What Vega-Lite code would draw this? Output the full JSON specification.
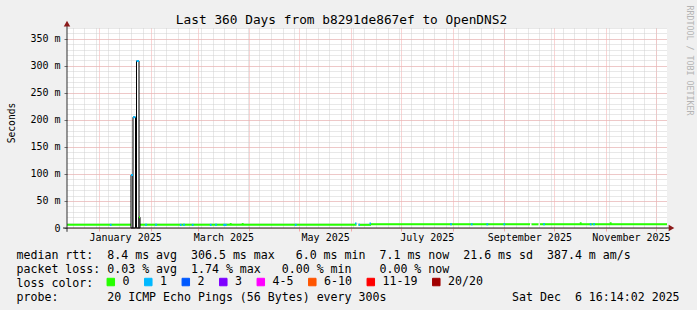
{
  "$schema": "https://vega.github.io/schema/vega-lite/v6.json",
  "width": 600,
  "height": 200,
  "autosize": {"type": "none"},
  "padding": {"left": 67, "top": 28, "right": 30, "bottom": 82},
  "background": "#f0f0f0",
  "config": {
    "view": {"fill": "white", "stroke": null},
    "font": "DejaVu Sans Mono",
    "axis": {"labelFont": "DejaVu Sans Mono", "titleFont": "DejaVu Sans Mono", "titleFontWeight": "normal", "labelColor": "#000000", "titleColor": "#000000"}
  },
  "data": {"values": [
    {"start": "2024-12-12T15:00", "end": "2025-06-04T07:48", "ms": 5.8, "loss": "0", "kind": "line"},
    {"start": "2025-06-05T12:36", "end": "2025-06-13T00:36", "ms": 5.8, "loss": "0", "kind": "line"},
    {"start": "2025-06-13T00:36", "end": "2025-09-16T10:12", "ms": 6.8, "loss": "0", "kind": "line"},
    {"start": "2025-09-17T07:48", "end": "2025-09-21T12:36", "ms": 6.8, "loss": "0", "kind": "line"},
    {"start": "2025-09-22T10:12", "end": "2025-12-07T15:00", "ms": 6.8, "loss": "0", "kind": "line"},
    {"start": "2025-01-07T07:20", "end": "2025-01-08T09:15", "ms": 5.8, "loss": "1", "kind": "line"},
    {"start": "2025-01-28T11:38", "end": "2025-01-29T13:34", "ms": 5.8, "loss": "1", "kind": "line"},
    {"start": "2025-02-03T11:38", "end": "2025-02-04T13:34", "ms": 5.8, "loss": "1", "kind": "line"},
    {"start": "2025-02-18T07:19", "end": "2025-02-19T09:14", "ms": 5.8, "loss": "1", "kind": "line"},
    {"start": "2025-02-20T06:50", "end": "2025-02-21T08:46", "ms": 5.8, "loss": "1", "kind": "line"},
    {"start": "2025-02-25T12:07", "end": "2025-02-26T14:02", "ms": 5.8, "loss": "1", "kind": "line"},
    {"start": "2025-03-08T07:19", "end": "2025-03-09T09:14", "ms": 5.8, "loss": "1", "kind": "line"},
    {"start": "2025-03-11T11:38", "end": "2025-03-12T13:34", "ms": 5.8, "loss": "1", "kind": "line"},
    {"start": "2025-03-16T09:43", "end": "2025-03-18T10:41", "ms": 5.8, "loss": "1", "kind": "line"},
    {"start": "2025-03-20T07:19", "end": "2025-03-21T09:14", "ms": 7.3, "loss": "0", "kind": "line"},
    {"start": "2025-03-27T12:07", "end": "2025-03-28T14:02", "ms": 7.3, "loss": "0", "kind": "line"},
    {"start": "2025-04-28T07:19", "end": "2025-04-29T09:14", "ms": 5.8, "loss": "1", "kind": "line"},
    {"start": "2025-06-03T10:12", "end": "2025-06-04T07:48", "ms": 8.5, "loss": "1", "kind": "line"},
    {"start": "2025-06-05T12:36", "end": "2025-06-06T10:12", "ms": 5.8, "loss": "1", "kind": "line"},
    {"start": "2025-06-12T03:00", "end": "2025-06-13T00:36", "ms": 8.5, "loss": "1", "kind": "line"},
    {"start": "2025-07-30T11:38", "end": "2025-07-31T13:34", "ms": 6.8, "loss": "1", "kind": "line"},
    {"start": "2025-08-11T21:43", "end": "2025-08-12T23:38", "ms": 6.8, "loss": "1", "kind": "line"},
    {"start": "2025-08-21T06:22", "end": "2025-08-22T08:17", "ms": 6.8, "loss": "1", "kind": "line"},
    {"start": "2025-08-31T11:10", "end": "2025-09-01T13:05", "ms": 6.8, "loss": "1", "kind": "line"},
    {"start": "2025-09-24T06:50", "end": "2025-09-25T08:46", "ms": 6.8, "loss": "1", "kind": "line"},
    {"start": "2025-10-16T07:19", "end": "2025-10-17T09:14", "ms": 8.8, "loss": "0", "kind": "line"},
    {"start": "2025-10-22T07:19", "end": "2025-10-23T09:14", "ms": 6.8, "loss": "1", "kind": "line"},
    {"start": "2025-10-24T06:50", "end": "2025-10-25T08:46", "ms": 6.8, "loss": "1", "kind": "line"},
    {"start": "2025-11-03T07:19", "end": "2025-11-04T09:14", "ms": 8.8, "loss": "0", "kind": "line"},
    {"start": "2025-01-20T00:36", "end": "2025-01-21T05:24", "ms": 98, "loss": "1", "kind": "spike"},
    {"start": "2025-01-21T05:24", "end": "2025-01-22T17:24", "ms": 205, "loss": "1", "kind": "spike"},
    {"start": "2025-01-23T07:48", "end": "2025-01-24T19:48", "ms": 309, "loss": "1", "kind": "spike"},
    {"start": "2025-01-24T19:48", "end": "2025-01-25T10:12", "ms": 20, "loss": "0", "kind": "spike"}
  ]},
  "resolve": {"axis": {"x": "independent", "y": "independent"}},
  "layer": [
    {
      "transform": [{"filter": "datum.kind == 'line'"}],
      "mark": {"type": "rule", "strokeWidth": 2, "strokeCap": "butt"},
      "encoding": {
        "x": {"field": "start", "type": "temporal",
          "scale": {"domain": [{"year": 2024, "month": 12, "date": 12, "hours": 15}, {"year": 2025, "month": 12, "date": 7, "hours": 15}]},
          "axis": {"orient": "bottom", "grid": true, "gridColor": "#d0d0d0", "gridDash": [1, 1], "labels": false, "ticks": false, "domain": false, "title": null,
            "values": [
              {"year": 2024, "month": 12, "date": 16}, {"year": 2024, "month": 12, "date": 23}, {"year": 2024, "month": 12, "date": 30},
              {"year": 2025, "month": 1, "date": 6}, {"year": 2025, "month": 1, "date": 13}, {"year": 2025, "month": 1, "date": 20}, {"year": 2025, "month": 1, "date": 27},
              {"year": 2025, "month": 2, "date": 3}, {"year": 2025, "month": 2, "date": 10}, {"year": 2025, "month": 2, "date": 17}, {"year": 2025, "month": 2, "date": 24},
              {"year": 2025, "month": 3, "date": 3}, {"year": 2025, "month": 3, "date": 10}, {"year": 2025, "month": 3, "date": 17}, {"year": 2025, "month": 3, "date": 24}, {"year": 2025, "month": 3, "date": 31},
              {"year": 2025, "month": 4, "date": 7}, {"year": 2025, "month": 4, "date": 14}, {"year": 2025, "month": 4, "date": 21}, {"year": 2025, "month": 4, "date": 28},
              {"year": 2025, "month": 5, "date": 5}, {"year": 2025, "month": 5, "date": 12}, {"year": 2025, "month": 5, "date": 19}, {"year": 2025, "month": 5, "date": 26},
              {"year": 2025, "month": 6, "date": 2}, {"year": 2025, "month": 6, "date": 9}, {"year": 2025, "month": 6, "date": 16}, {"year": 2025, "month": 6, "date": 23}, {"year": 2025, "month": 6, "date": 30},
              {"year": 2025, "month": 7, "date": 7}, {"year": 2025, "month": 7, "date": 14}, {"year": 2025, "month": 7, "date": 21}, {"year": 2025, "month": 7, "date": 28},
              {"year": 2025, "month": 8, "date": 4}, {"year": 2025, "month": 8, "date": 11}, {"year": 2025, "month": 8, "date": 18}, {"year": 2025, "month": 8, "date": 25},
              {"year": 2025, "month": 9, "date": 1}, {"year": 2025, "month": 9, "date": 8}, {"year": 2025, "month": 9, "date": 15}, {"year": 2025, "month": 9, "date": 22}, {"year": 2025, "month": 9, "date": 29},
              {"year": 2025, "month": 10, "date": 6}, {"year": 2025, "month": 10, "date": 13}, {"year": 2025, "month": 10, "date": 20}, {"year": 2025, "month": 10, "date": 27},
              {"year": 2025, "month": 11, "date": 3}, {"year": 2025, "month": 11, "date": 10}, {"year": 2025, "month": 11, "date": 17}, {"year": 2025, "month": 11, "date": 24},
              {"year": 2025, "month": 12, "date": 1}
            ]}},
        "x2": {"field": "end"},
        "y": {"field": "ms", "type": "quantitative",
          "scale": {"domain": [0, 370], "nice": false, "zero": false},
          "axis": {"orient": "left", "grid": true, "gridColor": "#d0d0d0", "gridDash": [1, 1], "labels": false, "ticks": false, "domain": false, "title": null,
            "values": [0, 10, 20, 30, 40, 50, 60, 70, 80, 90, 100, 110, 120, 130, 140, 150, 160, 170, 180, 190, 200, 210, 220, 230, 240, 250, 260, 270, 280, 290, 300, 310, 320, 330, 340, 350, 360, 370]}},
        "color": {"field": "loss", "type": "nominal",
          "scale": {"domain": ["0", "1", "2", "3", "4-5", "6-10", "11-19", "20/20"],
                    "range": ["#26ff00", "#00b8ff", "#0059ff", "#7e00ff", "#ff00ff", "#ff5500", "#ff0000", "#a10000"]},
          "legend": {"orient": "none", "legendX": 38, "legendY": 248, "direction": "horizontal", "columns": 8, "title": null,
            "labelFont": "DejaVu Sans Mono", "labelFontSize": 11.6, "labelColor": "#000000", "labelOffset": 6, "columnPadding": 12.5, "padding": 0,
            "symbolType": "square", "symbolSize": 56, "symbolStrokeWidth": 1, "symbolStrokeColor": "#000000",
            "encode": {"symbols": {"update": {"fill": {"scale": "color", "field": "value"}, "stroke": {"value": "#000000"}, "strokeWidth": {"value": 1}, "opacity": {"value": 1}}}}}}
      }
    },
    {
      "transform": [{"filter": "datum.kind == 'spike'"}],
      "mark": {"type": "rect", "fill": "white", "stroke": "#000000", "strokeWidth": 1},
      "encoding": {
        "x": {"field": "start", "type": "temporal",
          "scale": {"domain": [{"year": 2024, "month": 12, "date": 12, "hours": 15}, {"year": 2025, "month": 12, "date": 7, "hours": 15}]},
          "axis": {"orient": "bottom", "grid": true, "gridColor": "#f4a8a8", "gridDash": [1, 1], "labels": false, "ticks": true, "tickColor": "#f4a8a8", "tickSize": 3, "domain": false, "title": null,
            "values": [
              {"year": 2025, "month": 1, "date": 1}, {"year": 2025, "month": 2, "date": 1}, {"year": 2025, "month": 3, "date": 1}, {"year": 2025, "month": 4, "date": 1},
              {"year": 2025, "month": 5, "date": 1}, {"year": 2025, "month": 6, "date": 1}, {"year": 2025, "month": 7, "date": 1}, {"year": 2025, "month": 8, "date": 1},
              {"year": 2025, "month": 9, "date": 1}, {"year": 2025, "month": 10, "date": 1}, {"year": 2025, "month": 11, "date": 1}, {"year": 2025, "month": 12, "date": 1}
            ]}},
        "x2": {"field": "end"},
        "y": {"field": "ms", "type": "quantitative",
          "scale": {"domain": [0, 370], "nice": false, "zero": false},
          "axis": {"orient": "left", "grid": true, "gridColor": "#f4a8a8", "gridDash": [1, 1], "ticks": true, "tickColor": "#707070", "tickSize": 3, "domain": false,
            "values": [0, 50, 100, 150, 200, 250, 300, 350],
            "labelExpr": "datum.value == 0 ? '0\u00a0\u00a0' : datum.value + '\u00a0m'",
            "labelFont": "DejaVu Sans Mono", "labelFontSize": 10, "labelPadding": 4, "labelBaseline": "middle",
            "title": "Seconds", "titleFont": "DejaVu Sans Mono", "titleFontSize": 9.6, "titleFontWeight": "normal",
            "titleX": -56, "titleY": 94.5, "titleAngle": 270, "titleAlign": "center", "titleBaseline": "middle"}},
        "y2": {"datum": 0}
      }
    },
    {
      "transform": [{"filter": "datum.kind == 'spike'"}],
      "mark": {"type": "rule", "strokeWidth": 2, "strokeCap": "butt"},
      "encoding": {
        "x": {"field": "start", "type": "temporal",
          "axis": {"orient": "top", "grid": false, "labels": false, "ticks": false, "domain": false,
            "title": "Last 360 Days from b8291de867ef to OpenDNS2", "titleFont": "DejaVu Sans Mono", "titleFontSize": 12.8, "titleFontWeight": "normal",
            "titleX": 274, "titleY": -9, "titleAlign": "center", "titleBaseline": "middle"}},
        "x2": {"field": "end"},
        "y": {"field": "ms", "type": "quantitative",
          "axis": {"orient": "right", "grid": false, "labels": false, "ticks": false, "domain": false,
            "title": "RRDTOOL / TOBI OETIKER", "titleFont": "DejaVu Sans Mono", "titleFontSize": 8.3, "titleFontWeight": "normal", "titleColor": "#b4b4b4",
            "titleX": 21, "titleY": 32, "titleAngle": 90, "titleAlign": "center", "titleBaseline": "middle"}},
        "color": {"field": "loss", "type": "nominal", "legend": null}
      }
    },
    {
      "data": {"values": [{}]},
      "mark": {"type": "rule", "color": "#303030", "strokeWidth": 1},
      "encoding": {
        "x": {"datum": {"year": 2024, "month": 12, "date": 12, "hours": 15}, "type": "temporal",
          "axis": {"orient": "bottom", "grid": false, "ticks": false, "domain": false,
            "values": [
              {"year": 2025, "month": 1, "date": 16, "hours": 12}, {"year": 2025, "month": 3, "date": 16, "hours": 12}, {"year": 2025, "month": 5, "date": 16, "hours": 12},
              {"year": 2025, "month": 7, "date": 16, "hours": 12}, {"year": 2025, "month": 9, "date": 16}, {"year": 2025, "month": 11, "date": 16}
            ],
            "labelExpr": "timeFormat(datum.value, '%B %Y')",
            "labelFont": "DejaVu Sans Mono", "labelFontSize": 10, "labelPadding": 4, "labelBaseline": "top", "labelAlign": "center", "labelFlush": false, "labelOverlap": false,
            "title": [
              "median\u00a0rtt:\u00a0\u00a08.4\u00a0ms\u00a0avg\u00a0\u00a0306.5\u00a0ms\u00a0max\u00a0\u00a0\u00a06.0\u00a0ms\u00a0min\u00a0\u00a07.1\u00a0ms\u00a0now\u00a0\u00a021.6\u00a0ms\u00a0sd\u00a0\u00a0387.4\u00a0m\u00a0am/s",
              "packet\u00a0loss:\u00a00.03\u00a0%\u00a0avg\u00a0\u00a01.74\u00a0%\u00a0max\u00a0\u00a0\u00a00.00\u00a0%\u00a0min\u00a0\u00a0\u00a0\u00a00.00\u00a0%\u00a0now",
              "loss\u00a0color:",
              "probe:\u00a0\u00a0\u00a0\u00a0\u00a0\u00a0\u00a020\u00a0ICMP\u00a0Echo\u00a0Pings\u00a0(56\u00a0Bytes)\u00a0every\u00a0300s\u00a0\u00a0\u00a0\u00a0\u00a0\u00a0\u00a0\u00a0\u00a0\u00a0\u00a0\u00a0\u00a0\u00a0\u00a0\u00a0\u00a0\u00a0Sat\u00a0Dec\u00a0\u00a06\u00a016:14:02\u00a02025"
            ],
            "titleFont": "DejaVu Sans Mono", "titleFontSize": 11.6, "titleFontWeight": "normal", "titleLineHeight": 14, "titleLimit": 2000,
            "titleX": -51, "titleY": 30, "titleAlign": "left", "titleBaseline": "alphabetic", "titleAnchor": "start"}},
        "y": {"datum": -7, "type": "quantitative", "axis": null},
        "y2": {"datum": 374}
      }
    },
    {
      "data": {"values": [{}]},
      "mark": {"type": "rule", "color": "#202020", "strokeWidth": 1},
      "encoding": {
        "x": {"datum": {"year": 2024, "month": 12, "date": 10, "hours": 5, "minutes": 24}, "type": "temporal", "axis": null},
        "x2": {"datum": {"year": 2025, "month": 12, "date": 8, "hours": 19, "minutes": 48}},
        "y": {"datum": 0, "type": "quantitative", "axis": null}
      }
    },
    {
      "data": {"values": [{}]},
      "mark": {"type": "point", "shape": "triangle-up", "filled": true, "size": 42, "color": "#8b1a1a", "opacity": 1},
      "encoding": {
        "x": {"datum": {"year": 2024, "month": 12, "date": 12, "hours": 15}, "type": "temporal", "axis": null},
        "y": {"datum": 378, "type": "quantitative", "axis": null}
      }
    },
    {
      "data": {"values": [{}]},
      "mark": {"type": "point", "shape": "triangle-right", "filled": true, "size": 42, "color": "#8b1a1a", "opacity": 1},
      "encoding": {
        "x": {"datum": {"year": 2025, "month": 12, "date": 10, "hours": 7, "minutes": 48}, "type": "temporal", "axis": null},
        "y": {"datum": 0, "type": "quantitative", "axis": null}
      }
    }
  ]
}
